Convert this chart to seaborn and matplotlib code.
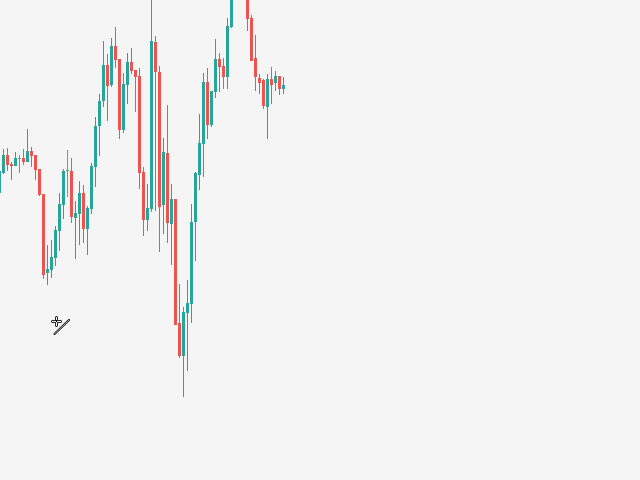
import numpy as np
import pandas as pd
import matplotlib
matplotlib.use('Agg')
import matplotlib.pyplot as plt
from matplotlib.lines import Line2D
import seaborn as sns

# candles, the price axis runs downwards like the screen
candle = list(range(72))
kind = ['up', 'up', 'down', 'down', 'up', 'flat', 'down', 'up', 'down', 'down', 'down', 'down',
        'up', 'up', 'up', 'up', 'up', 'flat', 'down', 'up', 'up', 'down', 'up', 'up',
        'up', 'up', 'up', 'down', 'up', 'down', 'down', 'up', 'up', 'down', 'down', 'down',
        'down', 'up', 'up', 'down', 'down', 'up', 'down', 'up', 'down', 'down', 'up', 'up',
        'up', 'up', 'up', 'up', 'down', 'up', 'up', 'down', 'down', 'up', 'up', 'up',
        'up', 'up', 'down', 'down', 'down', 'down', 'down', 'up', 'down', 'up', 'down', 'up']
high = [165, 149, 148, 162, 152, 155, 149, 129, 147, 155, 169, 194,
        245, 240, 226, 193, 169, 150, 158, 201, 181, 185, 206, 163,
        117, 94, 41, 54, 38, 27, 59, 73, 53, 48, 70, 68,
        167, 184, -2, 36, 66, 138, 105, 184, 199, 284, 307, 280,
        204, 172, 114, 73, 68, 91, 39, 53, 58, 18, -20, -60,
        -60, -60, -20, 15, 35, 74, 79, 74, 67, 71, 76, 77]
low = [193, 174, 171, 180, 166, 173, 165, 162, 167, 180, 196, 279,
       285, 278, 266, 251, 219, 197, 223, 259, 245, 243, 255, 214,
       187, 156, 107, 121, 87, 68, 139, 133, 104, 74, 112, 189,
       236, 231, 212, 211, 252, 234, 243, 265, 325, 358, 397, 371,
       323, 261, 190, 177, 139, 127, 98, 92, 89, 89, 28, -5,
       -5, -5, 31, 61, 91, 94, 109, 139, 104, 91, 95, 94]
body_top = [171, 155, 155, 164, 158, 158, 158, 151, 151, 155, 169, 194,
            269, 257, 230, 204, 171, 170, 171, 213, 193, 193, 208, 166,
            126, 101, 65, 65, 46, 46, 59, 84, 62, 62, 70, 76,
            172, 208, 41, 42, 72, 152, 153, 199, 199, 323, 312, 303,
            222, 173, 143, 82, 82, 91, 59, 59, 66, 26, -10, -40,
            -40, -40, -10, 18, 58, 78, 80, 79, 79, 76, 76, 85]
body_bot = [193, 173, 165, 166, 166, 159, 162, 162, 156, 170, 195, 275,
            273, 270, 258, 231, 205, 171, 217, 218, 214, 229, 229, 209,
            167, 126, 101, 86, 85, 60, 130, 130, 85, 71, 77, 173,
            220, 220, 209, 72, 207, 205, 223, 224, 325, 356, 356, 313,
            304, 222, 175, 144, 125, 125, 92, 67, 77, 77, 27, -10,
            -10, -10, 19, 61, 77, 83, 106, 107, 85, 83, 89, 89]

TEAL = '#26a69a'
RED = '#ef5350'
FLAT = '#4caf7d'

df = pd.DataFrame({'candle': candle, 'kind': kind, 'high': high, 'low': low,
                   'body_top': body_top, 'body_bot': body_bot})
df['body'] = df['body_bot'] - df['body_top']

sns.set_theme(style='white', rc={'figure.facecolor': '#f5f5f5', 'axes.facecolor': '#f5f5f5'})
fig, ax = plt.subplots(figsize=(6.4, 4.8), dpi=100)
ax.set_position([0, 0, 1, 1])

for name, color in [('up', TEAL), ('down', RED), ('flat', FLAT)]:
    part = df[df['kind'] == name]
    ax.vlines(part['candle'], part['high'], part['low'], color=color, linewidth=0.72, snap=False)
    # native_scale takes the width from the smallest gap inside the subset
    gap = np.diff(part['candle']).min()
    sns.barplot(data=part, x='candle', y='body', bottom=part['body_top'].to_numpy(),
                native_scale=True, width=0.75 / gap, color=color, saturation=1,
                errorbar=None, linewidth=0, ax=ax)

# snapping moves the 3 px bodies off their 1 px wicks
for bar in ax.patches:
    bar.set_snap(False)

ax.set_xlim(0.125, 160.125)
ax.set_ylim(480, 0)
ax.axis('off')


def px_line(xs, ys, color, lw):
    fig.add_artist(Line2D(np.array(xs) / 640, 1 - np.array(ys) / 480,
                          color=color, linewidth=lw, solid_capstyle='round'))


# mouse cursor in the lower left
for color, lw in [('black', 2.1), ('white', 0.9)]:
    px_line([51.5, 59.5], [320.5, 320.5], color, lw)
    px_line([55.5, 55.5], [316.5, 324.5], color, lw)
px_line([55.5, 55.5], [320, 321], 'black', 1)
for color, lw in [('black', 1.5), ('white', 0.4)]:
    px_line([54.5, 69], [334, 320], color, lw)

fig.savefig('out.png', dpi=100, facecolor=fig.get_facecolor())
